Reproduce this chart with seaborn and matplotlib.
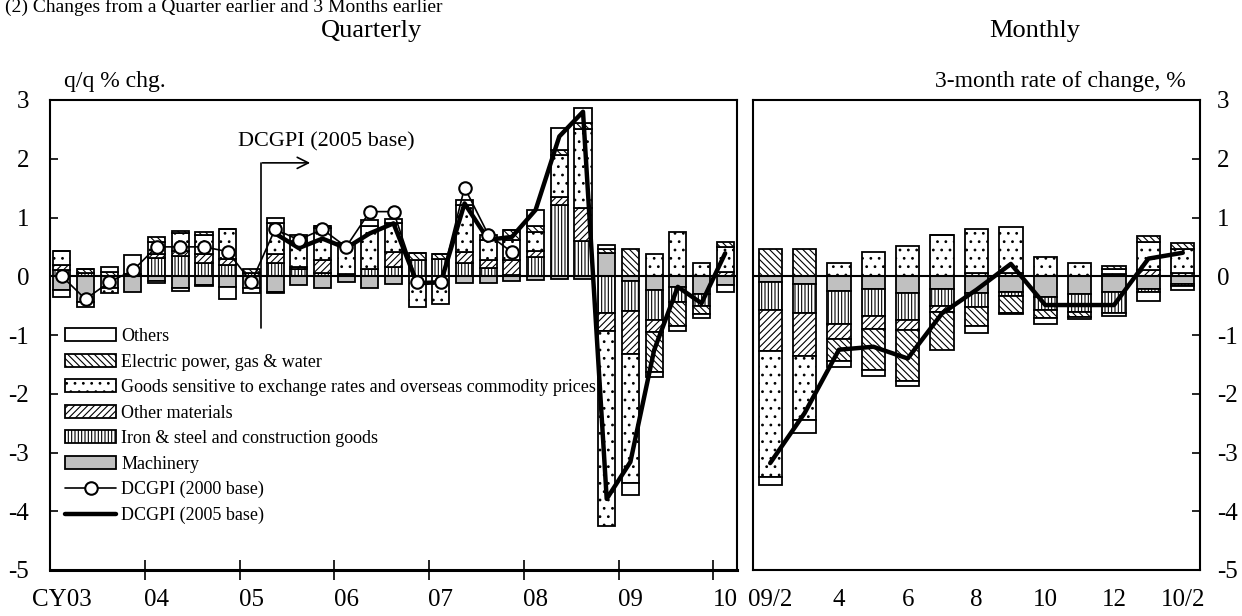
import numpy as np
import matplotlib
matplotlib.use('Agg')
import matplotlib.pyplot as plt
from matplotlib.patches import Patch
from matplotlib.lines import Line2D
import seaborn as sns

# data --------------------------------------------------------------------------------------------
year_labels  = ['CY03', '04', '05', '06', '07', '08', '09', '10']
month_labels = ['09/2', '4', '6', '8', '10', '12', '10/2']

# quarterly contributions, 2003Q1 - 2010Q1 (q/q % chg.)
q_machinery = [-0.24, -0.43, -0.20, -0.26, -0.08, -0.20, -0.15, -0.19, -0.20, -0.26,
               -0.15, -0.20, -0.10, -0.20, -0.13, 0.00, 0.00, -0.12, -0.11, -0.08,
               -0.06, -0.05, -0.05, 0.39, -0.08, -0.24, -0.18, -0.30, -0.15]
q_iron      = [0.10, 0.06, 0.00, 0.04, 0.31, 0.35, 0.22, 0.19, 0.05, 0.23,
               0.13, 0.05, 0.03, 0.13, 0.16, 0.28, 0.30, 0.22, 0.14, 0.02,
               0.33, 1.21, 0.60, -0.63, -0.51, -0.51, -0.26, -0.20, 0.00]
q_othermat  = [0.10, 0.00, 0.00, 0.00, 0.07, 0.08, 0.16, 0.11, 0.00, 0.15,
               0.02, 0.22, 0.00, 0.00, 0.25, 0.00, 0.00, 0.20, 0.14, 0.26,
               0.10, 0.14, 0.57, -0.31, -0.74, -0.20, 0.00, 0.00, 0.07]
q_goods     = [0.23, -0.10, -0.09, 0.00, 0.21, 0.30, 0.32, 0.50, 0.00, 0.53,
               0.45, 0.55, 0.53, 0.73, 0.50, -0.53, -0.47, 0.80, 0.34, 0.34,
               0.33, 0.71, 1.34, -3.31, -2.19, 0.38, 0.76, 0.22, 0.43]
q_electric  = [0.00, 0.06, 0.08, 0.00, 0.07, 0.04, 0.05, 0.00, 0.07, -0.03,
               0.00, 0.04, 0.00, 0.00, 0.00, 0.12, 0.08, 0.00, 0.00, 0.16,
               0.10, 0.09, 0.10, 0.08, 0.47, -0.68, -0.40, -0.15, 0.08]
q_others    = [-0.12, 0.00, 0.08, 0.32, -0.03, -0.05, -0.02, -0.19, -0.09, 0.09,
               0.10, 0.00, 0.00, 0.10, 0.06, 0.00, 0.00, 0.07, 0.08, 0.00,
               0.26, 0.37, 0.25, 0.06, -0.20, -0.09, -0.09, -0.06, -0.11]
dcgpi_2000  = [0.00, -0.39, -0.10, 0.10, 0.50, 0.50, 0.50, 0.42, -0.10, 0.80,
               0.62, 0.80, 0.50, 1.10, 1.10, -0.10, -0.10, 1.51, 0.71, 0.41]
dcgpi_2005  = [0.73, 0.48, 0.64, 0.48, 0.73, 0.90, -0.12, -0.10, 1.24, 0.62,
               0.67, 1.13, 2.38, 2.80, -3.79, -3.16, -1.26, -0.18, -0.46, 0.39]

# monthly contributions, 09/2 - 10/2 (3-month rate of change, %)
m_machinery = [-0.10, -0.13, -0.25, -0.22, -0.28, -0.21, -0.28, -0.27, -0.35, -0.30, -0.27, -0.22, -0.13]
m_iron      = [-0.47, -0.50, -0.56, -0.45, -0.47, -0.30, -0.24, -0.07, -0.22, -0.30, -0.35, -0.05, -0.04]
m_othermat  = [-0.71, -0.72, -0.26, -0.22, -0.17, -0.09, 0.05, 0.05, 0.00, 0.00, 0.03, 0.10, 0.06]
m_goods     = [-2.13, -1.10, 0.22, 0.41, 0.51, 0.70, 0.76, 0.79, 0.33, 0.23, 0.09, 0.48, 0.41]
m_electric  = [0.47, 0.47, -0.37, -0.71, -0.87, -0.66, -0.33, -0.28, -0.14, -0.09, 0.06, 0.11, 0.10]
m_others    = [-0.15, -0.21, -0.10, -0.10, -0.08, 0.00, -0.12, -0.02, -0.11, -0.03, -0.06, -0.15, -0.06]
m_dcgpi     = [-3.18, -2.33, -1.25, -1.20, -1.40, -0.63, -0.23, 0.21, -0.49, -0.49, -0.49, 0.30, 0.40]

# style -------------------------------------------------------------------------------------------
sns.set_theme(style='white')
plt.rcParams['font.family'] = ['Liberation Serif', 'DejaVu Serif']
for k in ['text.color', 'axes.labelcolor', 'xtick.color', 'ytick.color', 'axes.edgecolor']:
    plt.rcParams[k] = 'black'
plt.rcParams['hatch.linewidth'] = 0.8
plt.rcParams['axes.unicode_minus'] = False

names = ['Machinery', 'Iron & steel and construction goods', 'Other materials',
         'Goods sensitive to exchange rates and overseas commodity prices',
         'Electric power, gas & water', 'Others']
styles = {names[0]: dict(facecolor='#c0c0c0', hatch=''),
          names[1]: dict(facecolor='white', hatch='|||||'),
          names[2]: dict(facecolor='white', hatch='/////'),
          names[3]: dict(facecolor='white', hatch='..'),
          names[4]: dict(facecolor='white', hatch='\\\\\\\\\\'),
          names[5]: dict(facecolor='white', hatch='')}


def draw_stack(ax, comps, width):
    x = np.arange(len(comps[0]))
    pos = np.zeros(len(x))
    neg = np.zeros(len(x))
    for name, vals in zip(names, comps):
        vals = np.asarray(vals, dtype=float)
        b = np.where(vals >= 0, pos, neg)
        ax.bar(x, vals, width, bottom=b, edgecolor='black', linewidth=1.3, zorder=2, **styles[name])
        pos += np.clip(vals, 0, None)
        neg += np.clip(vals, None, 0)


fig = plt.figure(figsize=(12.42, 6.16), dpi=100)
ax1 = fig.add_axes([50 / 1242, 1 - 570 / 616, 687 / 1242, 470 / 616])
ax2 = fig.add_axes([753 / 1242, 1 - 570 / 616, 447 / 1242, 470 / 616])

# quarterly ---------------------------------------------------------------------------------------
draw_stack(ax1, [q_machinery, q_iron, q_othermat, q_goods, q_electric, q_others], 0.72)
ax1.axhline(0, color='black', lw=1.5, zorder=2.5)
sns.lineplot(x=np.arange(9, 29), y=dcgpi_2005, ax=ax1, color='black', lw=3.2, sort=False, zorder=3)
sns.lineplot(x=np.arange(0, 20), y=dcgpi_2000, ax=ax1, color='black', lw=1.2, sort=False, zorder=4,
             marker='o', markersize=9, markerfacecolor='white', markeredgecolor='black', markeredgewidth=1.5)

ax1.plot([8.4, 8.4], [-0.88, 1.93], color='black', lw=1.2, zorder=5)
ax1.annotate('', xy=(10.6, 1.93), xytext=(8.35, 1.93),
             arrowprops=dict(arrowstyle='->', lw=1.2, color='black', mutation_scale=20), zorder=5)
ax1.text(11.15, 2.29, 'DCGPI (2005 base)', ha='center', va='center', fontsize=16)

ax1.set_xlim(-0.5, 28.5)
ax1.set_ylim(-5, 3)
ax1.set_yticks(range(-5, 4))
ax1.tick_params(axis='y', left=True, direction='in', length=6, width=1.2, labelsize=18, pad=15)
ax1.set_xticks(np.arange(3.5, 28, 4))
ax1.set_xticklabels([])
ax1.set_xticks(np.arange(0, 29, 4), minor=True)
ax1.set_xticklabels(year_labels, minor=True)
ax1.tick_params(axis='x', which='major', bottom=True, direction='inout', length=14, width=1.2)
ax1.tick_params(axis='x', which='minor', bottom=True, length=0, labelsize=18, pad=14)
for s in ax1.spines.values():
    s.set_linewidth(1.5)
ax1.spines['bottom'].set_linewidth(2.2)

handles = [Patch(edgecolor='black', linewidth=1.3, **styles[n]) for n in names[::-1]]
handles += [Line2D([], [], color='black', lw=1.2, marker='o', markersize=9, markerfacecolor='white',
                   markeredgewidth=1.5),
            Line2D([], [], color='black', lw=3.2)]
labels = names[::-1] + ['DCGPI (2000 base)', 'DCGPI (2005 base)']
ax1.legend(handles, labels, loc='upper left', bbox_to_anchor=(0.012, 0.53), frameon=False,
           fontsize=13, handlelength=2.8, handleheight=0.7, handletextpad=0.3, labelspacing=0.47,
           borderaxespad=0)

# monthly -----------------------------------------------------------------------------------------
draw_stack(ax2, [m_machinery, m_iron, m_othermat, m_goods, m_electric, m_others], 0.68)
ax2.axhline(0, color='black', lw=1.5, zorder=2.5)
sns.lineplot(x=np.arange(13), y=m_dcgpi, ax=ax2, color='black', lw=3.2, sort=False, zorder=3)
ax2.set_xlim(-0.5, 12.5)
ax2.set_ylim(-5, 3)
ax2.set_yticks(range(-5, 4))
ax2.yaxis.tick_right()
ax2.tick_params(axis='y', right=True, left=False, labelright=True, labelleft=False, direction='in',
                length=6, width=1.2, labelsize=18, pad=12)
ax2.set_xticks(np.arange(0, 13, 2))
ax2.set_xticklabels(month_labels)
ax2.tick_params(axis='x', bottom=True, length=0, labelsize=18, pad=14)
for s in ax2.spines.values():
    s.set_linewidth(1.5)

# texts -------------------------------------------------------------------------------------------
fig.text(0.004, 1 - 12 / 616, '(2) Changes from a Quarter earlier and 3 Months earlier',
         ha='left', va='baseline', fontsize=14)
fig.text(372 / 1242, 1 - 31 / 616, 'Quarterly', ha='center', va='center', fontsize=19)
fig.text(1035 / 1242, 1 - 31 / 616, 'Monthly', ha='center', va='center', fontsize=19)
fig.text(115 / 1242, 1 - 82 / 616, 'q/q % chg.', ha='center', va='center', fontsize=17)
fig.text(1186 / 1242, 1 - 82 / 616, '3-month rate of change, %', ha='right', va='center', fontsize=17)

fig.savefig('out.png', dpi=100)
